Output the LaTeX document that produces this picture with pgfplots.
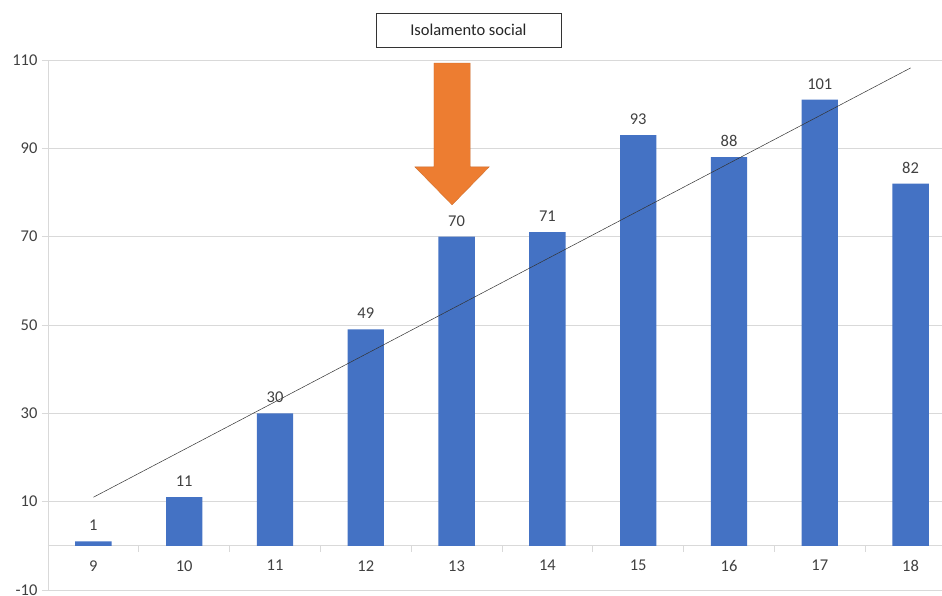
\documentclass[border=0pt]{standalone}
\usepackage{pgfplots}
\pgfplotsset{compat=1.18}
\usepackage{fontspec}
\setmainfont{Carlito}
\definecolor{barblue}{HTML}{4472C4}
\definecolor{arroworange}{HTML}{ED7D31}
\definecolor{gridgray}{HTML}{D9D9D9}
\definecolor{labgray}{HTML}{404040}
\begin{document}
\begin{tikzpicture}
\begin{axis}[
  scale only axis,
  width=908pt, height=530pt,
  xmin=8.5, xmax=18.5,
  ymin=-10, ymax=110,
  axis x line=middle,
  axis y line=left,
  axis line style={-, gridgray, line width=0.8pt},
  xtick={9,...,18},
  major x tick style={draw=none},
  minor xtick={9.5,10.5,...,17.5},
  minor x tick style={gridgray, line width=0.8pt},
  minor tick length=6pt,
  ytick={-10,10,30,50,70,90,110},
  major y tick style={gridgray, line width=0.8pt},
  major tick length=6pt,
  tick align=outside,
  ymajorgrids,
  grid style={gridgray, line width=0.8pt},
  tick label style={font=\fontsize{16.5}{18}\selectfont, text=labgray},
  /pgf/number format/assume math mode=true,
  xticklabel style={yshift=-5pt},
  yticklabel style={xshift=-1pt},
  clip=false,
]
\addplot[ybar, bar width=0.4, fill=barblue, draw=none,
  nodes near coords,
  nodes near coords style={font=\fontsize{16.5}{18}\selectfont, text=labgray, yshift=7pt}]
  coordinates {(9,1) (10,11) (11,30) (12,49) (13,70) (14,71) (15,93) (16,88) (17,101) (18,82)};
\addplot[black!80, line width=0.5pt] coordinates {(9,11.0) (18,108.2)};
% arrow
\addplot[fill=arroworange, draw=arroworange!85!black, line width=0.3pt] coordinates {
  (12.75,109.3) (13.15,109.3) (13.15,85.8) (13.36,85.8) (12.95,77.2) (12.54,85.8) (12.75,85.8) (12.75,109.3)};
\node[draw=black!80, line width=0.8pt, fill=white, minimum width=185pt, minimum height=34pt,
  font=\fontsize{16.5}{18}\selectfont, text=black!85] at (axis cs:13.13,116.8) {Isolamento social};
\coordinate (ll) at (rel axis cs:0,0);
\coordinate (ur) at (rel axis cs:1,1);
\end{axis}
\pgfresetboundingbox
\path[use as bounding box] ([shift={(-48pt,-6pt)}]ll) rectangle ([shift={(-14pt,60pt)}]ur);
\end{tikzpicture}
\end{document}
